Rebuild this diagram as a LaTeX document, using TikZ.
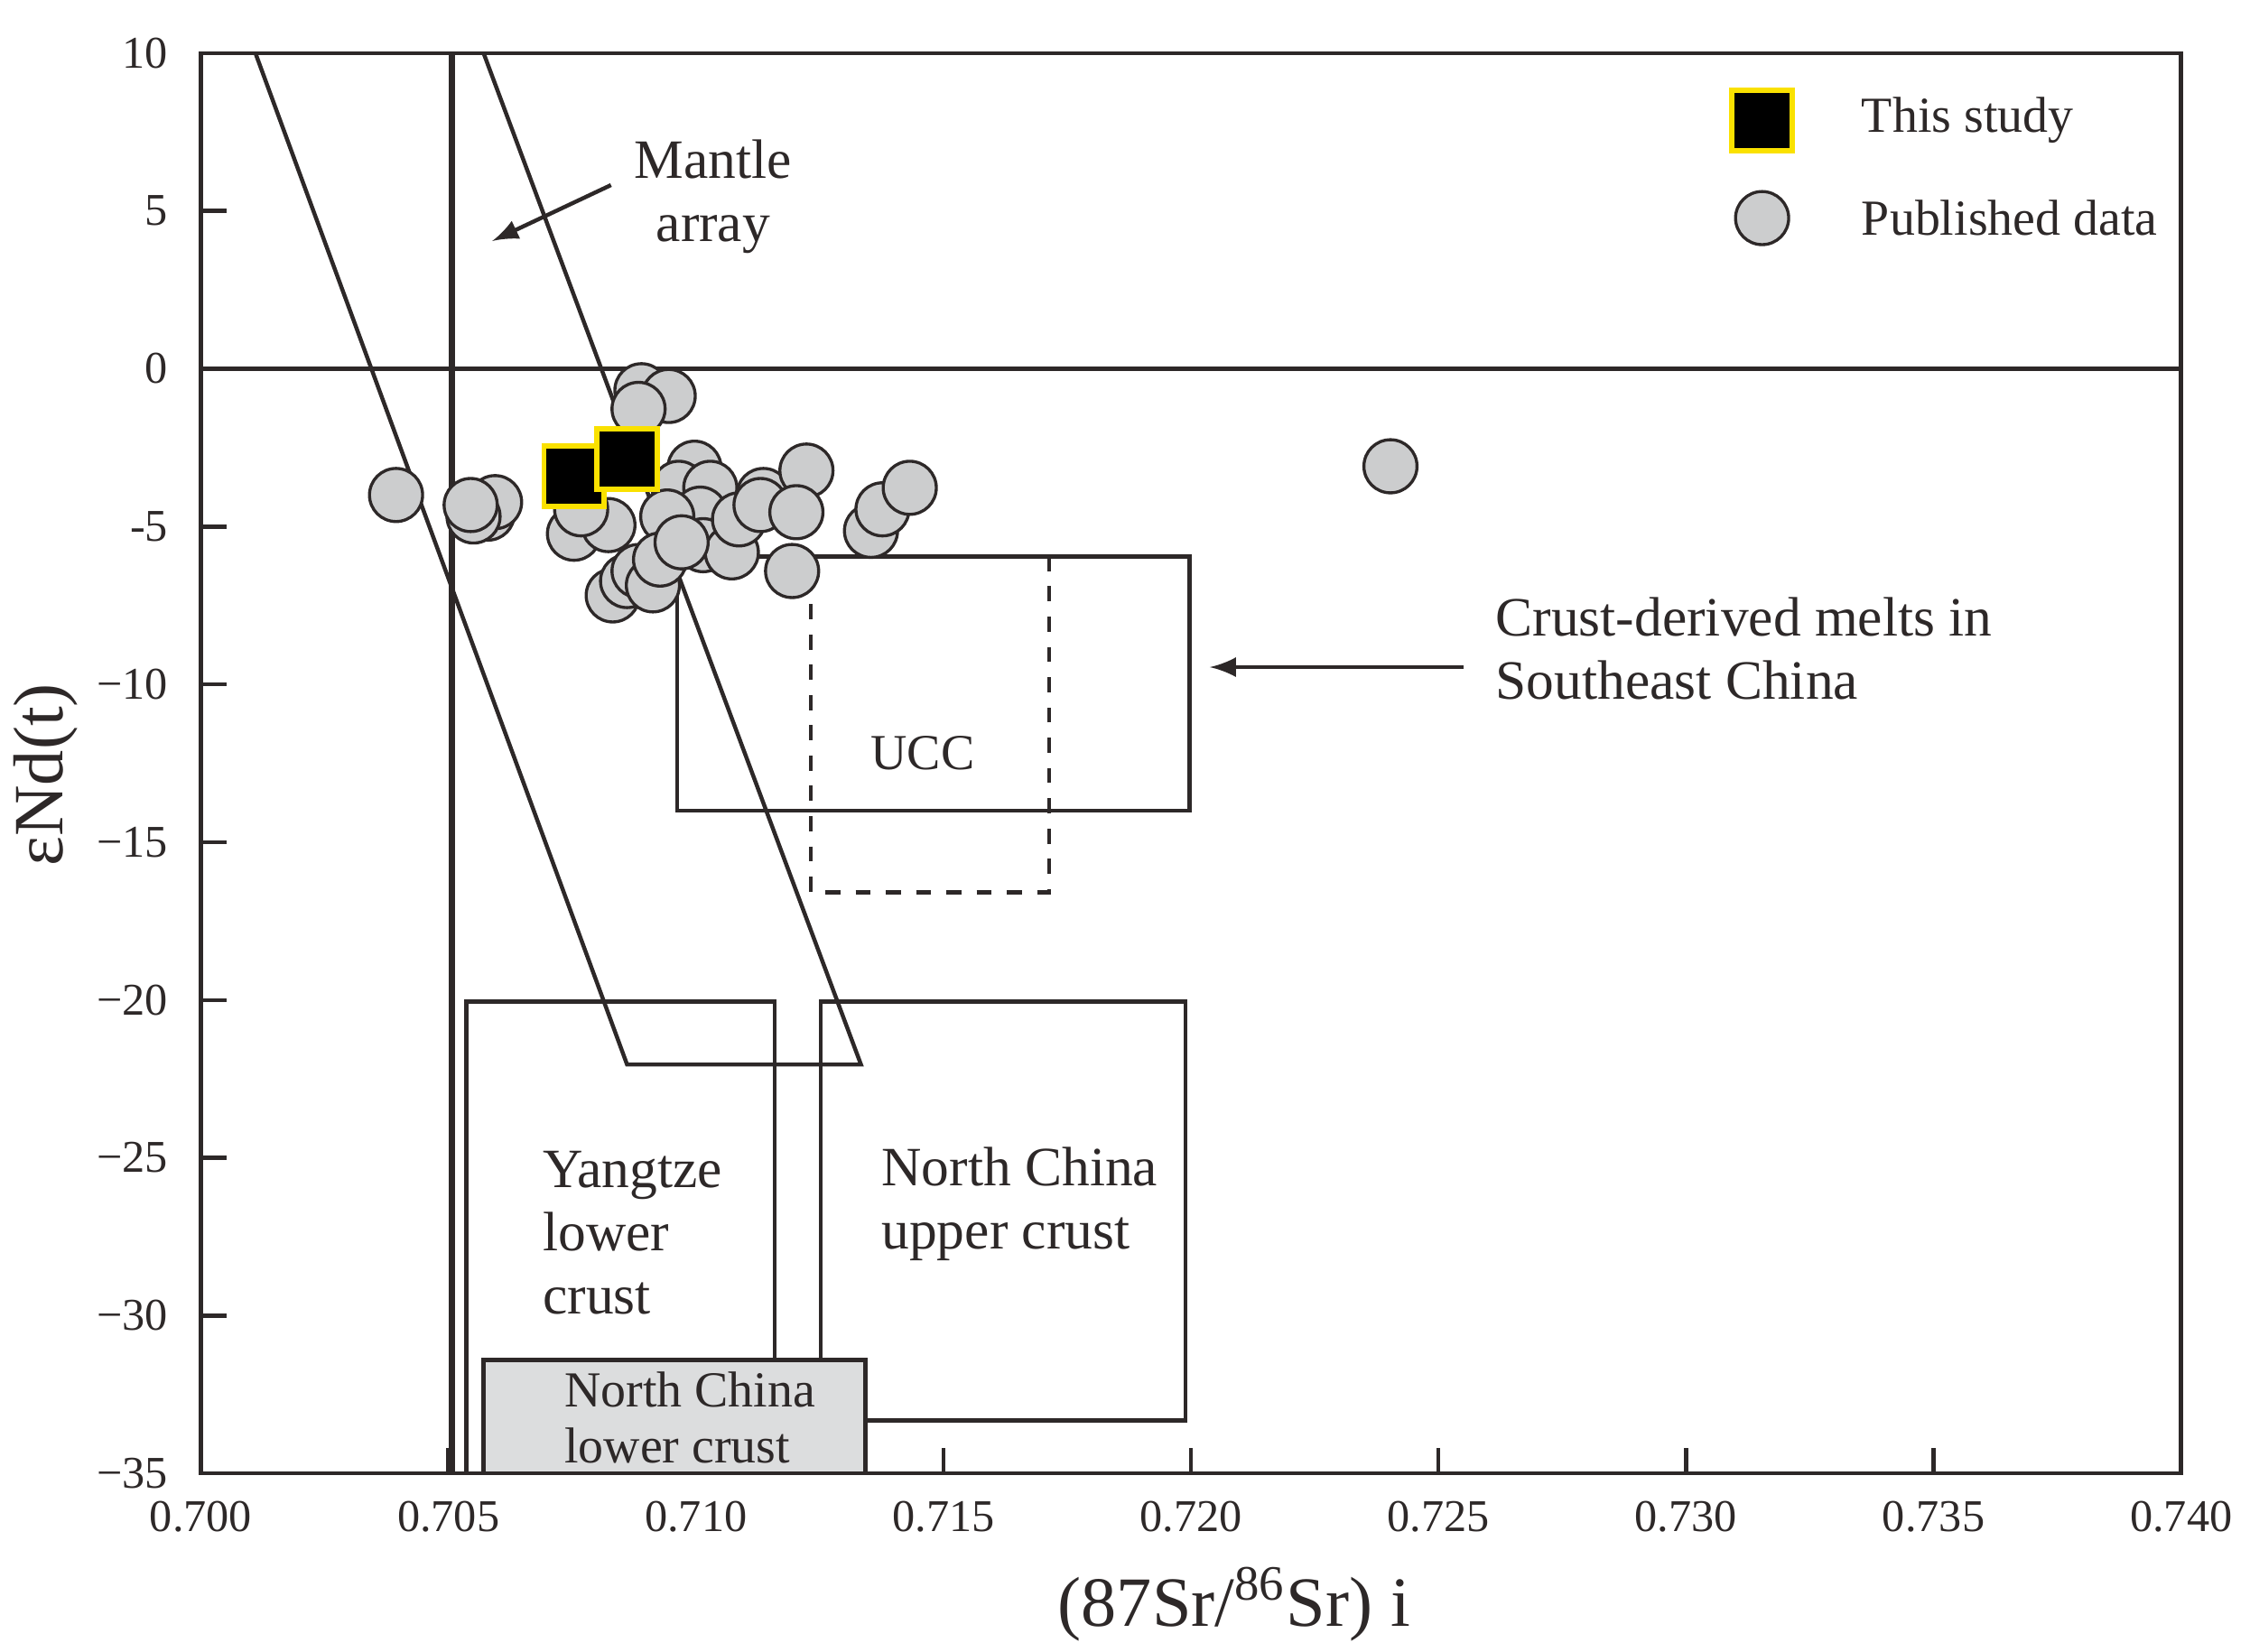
\documentclass[tikz,border=0pt]{standalone}
\usepackage{fontspec}
\setmainfont{Liberation Serif}
\usetikzlibrary{positioning}
\definecolor{dotgray}{RGB}{204,205,206}
\definecolor{boxgray}{RGB}{220,221,222}
\definecolor{frame}{RGB}{45,40,40}
\definecolor{ylw}{RGB}{250,225,0}
\begin{document}
\begin{tikzpicture}
[
x=0.01cm, y=-0.01cm,
line/.style={frame, line width=0.8pt},
pub/.style={circle, draw=frame, fill=dotgray, line width=0.6pt, minimum size=0.37cm, inner sep=0pt},
study/.style={rectangle, draw=ylw, fill=black, line width=1pt, minimum size=0.42cm, inner sep=0pt},
tick-a/.style={font=\fontsize{9}{10}\selectfont, text=frame},
text-a/.style={font=\fontsize{11}{12.5}\selectfont, text=frame, align=left},
text-b/.style={font=\fontsize{10}{11}\selectfont, text=frame, align=left},
]
\useasboundingbox (0,0) rectangle (1568,1151);
% frame and ticks
\draw [line] (140,37) rectangle (1520,1027);
\foreach \i/\lab in {0/0.700,1/0.705,2/0.710,3/0.715,4/0.720,5/0.725,6/0.730,7/0.735,8/0.740} {
  \coordinate (xt\i) at ({140+172.5*\i},1027);
  \draw [line] (xt\i) -- ++(0,-18);
  \node [tick-a, below=2pt of xt\i] {\lab};
}
\foreach \i/\lab in {0/10,1/5,2/0,3/-5,4/−10,5/−15,6/−20,7/−25,8/−30,9/−35} {
  \coordinate (yt\i) at (140,{37+110*\i});
  \draw [line] (yt\i) -- ++(18,0);
  \node [tick-a, left=3pt of yt\i] {\lab};
}
\draw [line] (yt2) -- ++(1380,0);
\draw [frame, line width=1.3pt] (315,37) -- (315,1027);
% mantle array
\coordinate (ma1) at (178,37);
\coordinate (ma2) at (437,742);
\coordinate (ma3) at (600,742);
\coordinate (ma4) at (337,37);
\draw [line] (ma1) -- (ma2) -- (ma3) -- (ma4);
\node (mal) [text-a, align=center] at (497,137) {Mantle\\array};
\coordinate (maa) at (343,168);
\draw [line, -latex] (mal.west) ++(-4,-8) -- (maa);
% crust-derived melts and UCC
\draw [line] (472,388) rectangle (829,565);
\draw [line, dashed] (565,400) -- (565,622) -- (731,622) -- (731,388);
\node (ucc) [text-b] at (643,525) {UCC};
\node (cdm) [text-a, anchor=west] at (1030,452) {Crust-derived melts in\\Southeast China};
\coordinate (cda) at (843,465);
\draw [line, -latex] (1020,465) -- (cda);
% crust boxes
\draw [line] (325,1027) -- (325,698) -- (540,698) -- (540,948);
\node (ylc) [text-a, anchor=north west] at (366,790) {Yangtze\\lower\\crust};
\draw [line] (572,698) rectangle (826,990);
\node (ncu) [text-a, anchor=north west] at (602,787) {North China\\upper crust};
\draw [line, fill=boxgray] (337,948) rectangle (603,1027);
\node (ncl) [text-b, anchor=west] at (381,988) {North China\\lower crust};
% published data
\foreach \px/\py [count=\n] in {276/345, 340/358, 345/350, 330/360, 328/352,
  447/272, 466/276, 445/285, 400/372, 424/366, 405/355,
  484/326, 473/340, 495/340, 488/358, 465/360, 490/380, 510/385, 515/362,
  532/345, 530/352, 562/328, 555/357, 552/398, 607/370, 615/355, 634/340,
  427/415, 437/405, 445/398, 455/408, 460/390, 475/378, 969/325}
  \node (p\n) [pub] at (\px,\py) {};
% this study
\node (s1) [study] at (400,332) {};
\node (s2) [study] at (437,320) {};
% legend
\node (ls) [study] at (1228,84) {};
\node (lst) [text-b, anchor=west] at (1285,84) {This study};
\node (lp) [pub] at (1228,152) {};
\node (lpt) [text-b, anchor=west] at (1285,152) {Published data};
% axis labels
\node (xl) [text-a, font=\fontsize{14}{16}\selectfont] at (860,1118) {(87Sr/\textsuperscript{86}Sr) i};
\node (yl) [text-a, font=\fontsize{14}{16}\selectfont, rotate=90] at (32,540) {εNd(t)};
\end{tikzpicture}
\end{document}
